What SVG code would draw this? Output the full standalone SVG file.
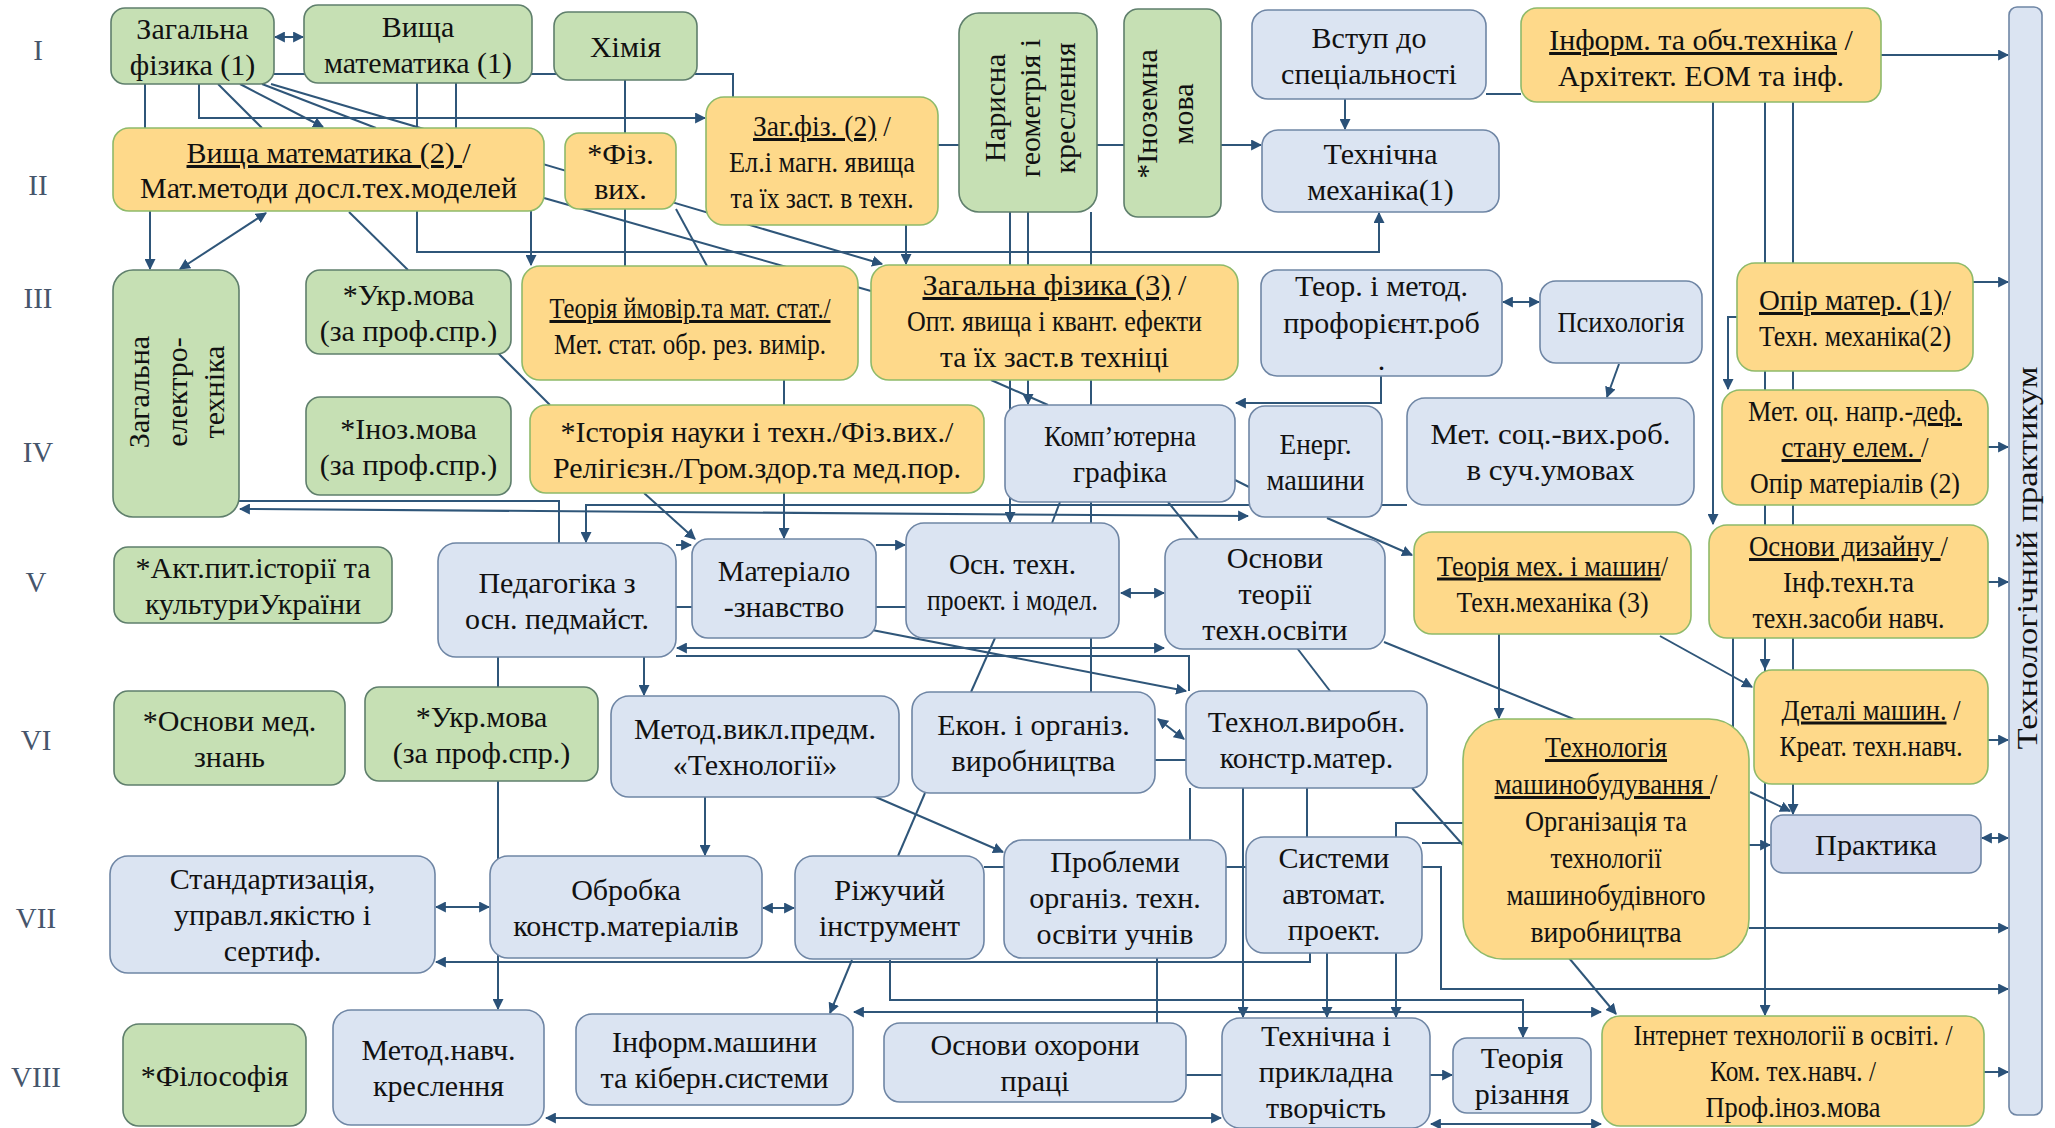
<svg xmlns="http://www.w3.org/2000/svg" width="2055" height="1128" viewBox="0 0 2055 1128">
<style>
.g{fill:#c6e0b4;stroke:#5f7f6c;stroke-width:1.6}
.y{fill:#fed98a;stroke:#8fba6a;stroke-width:1.6}
.b{fill:#dbe4f2;stroke:#6f86a5;stroke-width:1.6}
.p{fill:#d3dbee;stroke:#6f86a5;stroke-width:1.6}
.c{fill:none;stroke:#2f5679;stroke-width:2}
.t{font-family:"Liberation Serif","Times New Roman",serif;font-size:30px;fill:#111;text-anchor:middle}
.r{font-family:"Liberation Serif","Times New Roman",serif;font-size:29px;fill:#46556b;text-anchor:middle}
.u{text-decoration:underline}
</style>
<defs>
<marker id="a" viewBox="0 0 10 10" refX="9" refY="5" markerWidth="11" markerHeight="11" markerUnits="userSpaceOnUse" orient="auto-start-reverse"><path d="M0,0 L10,5 L0,10 z" fill="#2a5178"/></marker>
</defs>
<rect width="2055" height="1128" fill="#ffffff"/>

<g id="connectors">
<path class="c" d="M275,37 H303" marker-start="url(#a)" marker-end="url(#a)"/>
<path class="c" d="M274,74 H733 V97"/>
<path class="c" d="M145,84 V128"/>
<path class="c" d="M199,84 V118 H705" marker-end="url(#a)"/>
<path class="c" d="M218,84 L262,128"/>
<path class="c" d="M240,84 L323,127" marker-end="url(#a)"/>
<path class="c" d="M262,84 L376,128"/>
<path class="c" d="M271,84 L882,264" marker-end="url(#a)"/>
<path class="c" d="M417,83 V252 H1379 V213" marker-end="url(#a)"/>
<path class="c" d="M456,83 V128"/>
<path class="c" d="M625,80 V266"/>
<path class="c" d="M150,211 V269" marker-end="url(#a)"/>
<path class="c" d="M266,213 L180,269" marker-start="url(#a)" marker-end="url(#a)"/>
<path class="c" d="M349,212 L408,270"/>
<path class="c" d="M531,211 V265" marker-end="url(#a)"/>
<path class="c" d="M498,353 L550,405"/>
<path class="c" d="M676,209 L707,266"/>
<path class="c" d="M544,198 L871,291"/>
<path class="c" d="M906,225 V264" marker-end="url(#a)"/>
<path class="c" d="M938,145 H1261" marker-end="url(#a)"/>
<path class="c" d="M1345,99 V129" marker-end="url(#a)"/>
<path class="c" d="M1010,212 V522" marker-end="url(#a)"/>
<path class="c" d="M1028,212 V404" marker-end="url(#a)"/>
<path class="c" d="M1091,212 V692"/>
<path class="c" d="M991,380 L1048,405"/>
<path class="c" d="M1881,55 H2008" marker-end="url(#a)"/>
<path class="c" d="M1486,94 H1521"/>
<path class="c" d="M1503,302 H1539" marker-start="url(#a)" marker-end="url(#a)"/>
<path class="c" d="M1713,102 V524" marker-end="url(#a)"/>
<path class="c" d="M1765,102 V1015" marker-end="url(#a)"/>
<path class="c" d="M1765,640 V669" marker-end="url(#a)"/>
<path class="c" d="M1793,102 V814" marker-end="url(#a)"/>
<path class="c" d="M1737,317 H1728 V389" marker-end="url(#a)"/>
<path class="c" d="M1619,364 L1607,397" marker-end="url(#a)"/>
<path class="c" d="M1381,376 V403 H1236" marker-end="url(#a)"/>
<path class="c" d="M1235,480 L1249,487"/>
<path class="c" d="M1382,505 H1407"/>
<path class="c" d="M1249,505 H586 V542" marker-end="url(#a)"/>
<path class="c" d="M240,509 L1248,516" marker-start="url(#a)" marker-end="url(#a)"/>
<path class="c" d="M239,501 H559 V543"/>
<path class="c" d="M644,493 L695,539" marker-end="url(#a)"/>
<path class="c" d="M784,380 V538" marker-end="url(#a)"/>
<path class="c" d="M1060,502 L1052,523"/>
<path class="c" d="M1168,502 L1198,539"/>
<path class="c" d="M1121,593 H1164" marker-start="url(#a)" marker-end="url(#a)"/>
<path class="c" d="M676,545 H691" marker-end="url(#a)"/>
<path class="c" d="M876,545 H905" marker-end="url(#a)"/>
<path class="c" d="M676,607 H906"/>
<path class="c" d="M677,648 H1164" marker-start="url(#a)" marker-end="url(#a)"/>
<path class="c" d="M676,656 H1189 V691"/>
<path class="c" d="M872,630 L1186,691" marker-end="url(#a)"/>
<path class="c" d="M498,657 V1009" marker-end="url(#a)"/>
<path class="c" d="M644,657 V695" marker-end="url(#a)"/>
<path class="c" d="M995,638 L971,692"/>
<path class="c" d="M1297,648 L1330,691"/>
<path class="c" d="M1384,642 L1576,720"/>
<path class="c" d="M1327,518 L1412,555" marker-end="url(#a)"/>
<path class="c" d="M1158,719 L1184,739" marker-start="url(#a)" marker-end="url(#a)"/>
<path class="c" d="M1155,760 H1186"/>
<path class="c" d="M1499,634 V718" marker-end="url(#a)"/>
<path class="c" d="M1660,636 L1752,687" marker-end="url(#a)"/>
<path class="c" d="M1988,582 H2008" marker-end="url(#a)"/>
<path class="c" d="M1988,447 H2008" marker-end="url(#a)"/>
<path class="c" d="M1973,282 H2008" marker-end="url(#a)"/>
<path class="c" d="M1988,740 H2008" marker-end="url(#a)"/>
<path class="c" d="M1982,838 H2008" marker-start="url(#a)" marker-end="url(#a)"/>
<path class="c" d="M1749,845 H1770" marker-end="url(#a)"/>
<path class="c" d="M1749,928 H2008" marker-end="url(#a)"/>
<path class="c" d="M984,867 H1441 V989 H2008" marker-end="url(#a)"/>
<path class="c" d="M1984,1072 H2008" marker-end="url(#a)"/>
<path class="c" d="M1569,958 L1616,1014" marker-end="url(#a)"/>
<path class="c" d="M1463,823 H1396 V1017" marker-end="url(#a)"/>
<path class="c" d="M1327,953 V1017" marker-end="url(#a)"/>
<path class="c" d="M1243,788 V1017" marker-end="url(#a)"/>
<path class="c" d="M1307,788 V837"/>
<path class="c" d="M1190,788 V840"/>
<path class="c" d="M1422,843 H1463"/>
<path class="c" d="M1412,788 L1463,845"/>
<path class="c" d="M1310,953 V962 H436" marker-end="url(#a)"/>
<path class="c" d="M436,907 H489" marker-start="url(#a)" marker-end="url(#a)"/>
<path class="c" d="M763,908 H794" marker-start="url(#a)" marker-end="url(#a)"/>
<path class="c" d="M705,797 V855" marker-end="url(#a)"/>
<path class="c" d="M871,795 L1003,852" marker-end="url(#a)"/>
<path class="c" d="M925,793 L898,856"/>
<path class="c" d="M852,960 L830,1013" marker-end="url(#a)"/>
<path class="c" d="M890,960 V1000 H1523 V1037" marker-end="url(#a)"/>
<path class="c" d="M854,1012 H1601" marker-start="url(#a)" marker-end="url(#a)"/>
<path class="c" d="M1157,958 V1023"/>
<path class="c" d="M1430,1075 H1452" marker-end="url(#a)"/>
<path class="c" d="M1186,1075 H1222"/>
<path class="c" d="M546,1118 H1221" marker-start="url(#a)" marker-end="url(#a)"/>
<path class="c" d="M1431,1124 H1601" marker-start="url(#a)" marker-end="url(#a)"/>
<path class="c" d="M1733,638 V760"/>
<path class="c" d="M1750,792 L1790,811" marker-end="url(#a)"/>
</g>

<g id="row-labels">
<text class="r" x="38" y="60">I</text>
<text class="r" x="38" y="195">II</text>
<text class="r" x="38" y="308">III</text>
<text class="r" x="38" y="462">IV</text>
<text class="r" x="36" y="592">V</text>
<text class="r" x="36" y="750">VI</text>
<text class="r" x="36" y="928">VII</text>
<text class="r" x="36" y="1087">VIII</text>
</g>

<g id="n-zf1"><rect class="g" x="111" y="8" width="163" height="76" rx="14"/><text class="t" x="192.5" y="38.5">Загальна</text><text class="t" x="192.5" y="74.5">фізика (1)</text></g>
<g id="n-vm1"><rect class="g" x="304" y="5" width="228" height="78" rx="14"/><text class="t" x="418" y="36.5">Вища</text><text class="t" x="418" y="72.5">математика (1)</text></g>
<g id="n-chem"><rect class="g" x="554" y="12" width="143" height="68" rx="14"/><text class="t" x="625.5" y="56.5">Хімія</text></g>
<g id="n-geom"><rect class="g" x="959" y="13" width="138" height="199" rx="20"/><g transform="translate(1029,108) rotate(-90)"><text class="t" x="0" y="-24.5">Нарисна</text><text class="t" x="0" y="10.5">геометрія і</text><text class="t" x="0" y="45.5">креслення</text></g></g>
<g id="n-foreign"><rect class="g" x="1124" y="9" width="97" height="208" rx="14"/><g transform="translate(1164,114) rotate(-90)"><text class="t" x="0" y="-7.5">*Іноземна</text><text class="t" x="0" y="28.5">мова</text></g></g>
<g id="n-intro"><rect class="b" x="1252" y="10" width="234" height="89" rx="16"/><text class="t" x="1369" y="48">Вступ до</text><text class="t" x="1369" y="84">спеціальності</text></g>
<g id="n-inform"><rect class="y" x="1521" y="8" width="360" height="94" rx="16"/><text class="t" x="1701" y="50"><tspan class="u">Інформ. та обч.техніка</tspan> /</text><text class="t" x="1701" y="86">Архітект. ЕОМ та інф.</text></g>
<g id="n-practicum"><rect class="b" x="2009" y="7" width="33" height="1108" rx="8"/><text class="t" transform="translate(2026,558) rotate(-90)" x="0" y="10.5" textLength="383" lengthAdjust="spacingAndGlyphs">Технологічний практикум</text></g>

<g id="n-vm2"><rect class="y" x="113" y="128" width="431" height="83" rx="16"/><text class="t" x="328.5" y="163"><tspan class="u">Вища  математика (2) </tspan>/</text><text class="t" x="328.5" y="198">Мат.методи досл.тех.моделей</text></g>
<g id="n-phys-ed"><rect class="y" x="565" y="133" width="111" height="76" rx="14"/><text class="t" x="620.5" y="164">*Фіз.</text><text class="t" x="620.5" y="199">вих.</text></g>
<g id="n-zf2"><rect class="y" x="706" y="97" width="232" height="128" rx="18"/><text class="t" x="822" y="136" textLength="138" lengthAdjust="spacingAndGlyphs"><tspan class="u">Заг.фіз. (2)</tspan> /</text><text class="t" x="822" y="172" textLength="186" lengthAdjust="spacingAndGlyphs">Ел.і магн. явища</text><text class="t" x="822" y="208" textLength="183" lengthAdjust="spacingAndGlyphs">та їх заст. в техн.</text></g>
<g id="n-tm1"><rect class="b" x="1262" y="130" width="237" height="82" rx="16"/><text class="t" x="1380.5" y="163.5">Технічна</text><text class="t" x="1380.5" y="199.5">механіка(1)</text></g>

<g id="n-elec"><rect class="g" x="113" y="270" width="126" height="247" rx="20"/><g transform="translate(176,392) rotate(-90)"><text class="t" x="0" y="-27.5">Загальна</text><text class="t" x="0" y="10.5">електро-</text><text class="t" x="0" y="47.5">техніка</text></g></g>
<g id="n-ukr1"><rect class="g" x="306" y="270" width="205" height="84" rx="14"/><text class="t" x="408.5" y="304.5">*Укр.мова</text><text class="t" x="408.5" y="340.5">(за проф.спр.)</text></g>
<g id="n-prob"><rect class="y" x="522" y="266" width="336" height="114" rx="18"/><text class="t" x="690" y="318" textLength="281" lengthAdjust="spacingAndGlyphs"><tspan class="u">Теорія ймовір.та мат. стат./</tspan></text><text class="t" x="690" y="354" textLength="272" lengthAdjust="spacingAndGlyphs">Мет. стат. обр. рез. вимір.</text></g>
<g id="n-zf3"><rect class="y" x="871" y="265" width="367" height="115" rx="18"/><text class="t" x="1054.5" y="295" textLength="264" lengthAdjust="spacingAndGlyphs"><tspan class="u">Загальна фізика (3)</tspan> /</text><text class="t" x="1054.5" y="331" textLength="295" lengthAdjust="spacingAndGlyphs">Опт. явища і квант. ефекти</text><text class="t" x="1054.5" y="367" textLength="229" lengthAdjust="spacingAndGlyphs">та їх заст.в техніці</text></g>
<g id="n-prof"><rect class="b" x="1261" y="270" width="241" height="106" rx="16"/><text class="t" x="1381.5" y="296">Теор. і метод.</text><text class="t" x="1381.5" y="333">профорієнт.роб</text><text class="t" x="1381.5" y="370">.</text></g>
<g id="n-psych"><rect class="b" x="1540" y="281" width="162" height="82" rx="16"/><text class="t" x="1621" y="332" textLength="127" lengthAdjust="spacingAndGlyphs">Психологія</text></g>
<g id="n-om1"><rect class="y" x="1737" y="263" width="236" height="108" rx="18"/><text class="t" x="1855" y="310" textLength="192" lengthAdjust="spacingAndGlyphs"><tspan class="u">Опір матер. (1)</tspan>/</text><text class="t" x="1855" y="346" textLength="192" lengthAdjust="spacingAndGlyphs">Техн. механіка(2)</text></g>

<g id="n-ino"><rect class="g" x="306" y="397" width="205" height="98" rx="14"/><text class="t" x="408.5" y="438.5">*Іноз.мова</text><text class="t" x="408.5" y="474.5">(за проф.спр.)</text></g>
<g id="n-hist"><rect class="y" x="530" y="405" width="454" height="88" rx="16"/><text class="t" x="757" y="441.5">*Історія науки і техн./Фіз.вих./</text><text class="t" x="757" y="477.5">Релігієзн./Гром.здор.та мед.пор.</text></g>
<g id="n-cg"><rect class="b" x="1005" y="405" width="230" height="97" rx="16"/><text class="t" x="1120" y="446" textLength="152" lengthAdjust="spacingAndGlyphs">Комп’ютерна</text><text class="t" x="1120" y="482" textLength="94" lengthAdjust="spacingAndGlyphs">графіка</text></g>
<g id="n-energ"><rect class="b" x="1249" y="406" width="133" height="111" rx="16"/><text class="t" x="1315.5" y="454" textLength="72" lengthAdjust="spacingAndGlyphs">Енерг.</text><text class="t" x="1315.5" y="490" textLength="98" lengthAdjust="spacingAndGlyphs">машини</text></g>
<g id="n-soc"><rect class="b" x="1407" y="398" width="287" height="107" rx="18"/><text class="t" x="1550.5" y="444" textLength="240" lengthAdjust="spacingAndGlyphs">Мет.  соц.-вих.роб.</text><text class="t" x="1550.5" y="480" textLength="168" lengthAdjust="spacingAndGlyphs">в суч.умовах</text></g>
<g id="n-mo"><rect class="y" x="1722" y="390" width="266" height="115" rx="18"/><text class="t" x="1855" y="421" textLength="214" lengthAdjust="spacingAndGlyphs">Мет. оц. напр.-<tspan class="u">деф.</tspan></text><text class="t" x="1855" y="457" textLength="147" lengthAdjust="spacingAndGlyphs"><tspan class="u">стану  елем. </tspan>/</text><text class="t" x="1855" y="493" textLength="210" lengthAdjust="spacingAndGlyphs">Опір матеріалів (2)</text></g>

<g id="n-akt"><rect class="g" x="114" y="547" width="278" height="76" rx="14"/><text class="t" x="253" y="577.5">*Акт.пит.історії та</text><text class="t" x="253" y="613.5">культуриУкраїни</text></g>
<g id="n-ped"><rect class="b" x="438" y="543" width="238" height="114" rx="18"/><text class="t" x="557" y="592.5">Педагогіка з</text><text class="t" x="557" y="628.5">осн. педмайст.</text></g>
<g id="n-mat"><rect class="b" x="692" y="539" width="184" height="99" rx="16"/><text class="t" x="784" y="581">Матеріало</text><text class="t" x="784" y="617">-знавство</text></g>
<g id="n-otp"><rect class="b" x="906" y="523" width="213" height="115" rx="18"/><text class="t" x="1012.5" y="574" textLength="127" lengthAdjust="spacingAndGlyphs">Осн. техн.</text><text class="t" x="1012.5" y="610" textLength="171" lengthAdjust="spacingAndGlyphs">проект. і модел.</text></g>
<g id="n-oto"><rect class="b" x="1165" y="539" width="220" height="110" rx="18"/><text class="t" x="1275" y="568">Основи</text><text class="t" x="1275" y="604">теорії</text><text class="t" x="1275" y="640">техн.освіти</text></g>
<g id="n-tmm"><rect class="y" x="1414" y="532" width="277" height="102" rx="18"/><text class="t" x="1552.5" y="575.5" textLength="231" lengthAdjust="spacingAndGlyphs"><tspan class="u">Теорія мех. і машин</tspan>/</text><text class="t" x="1552.5" y="611.5" textLength="192" lengthAdjust="spacingAndGlyphs">Техн.механіка (3)</text></g>
<g id="n-design"><rect class="y" x="1709" y="525" width="279" height="113" rx="18"/><text class="t" x="1848.5" y="556" textLength="199" lengthAdjust="spacingAndGlyphs"><tspan class="u">Основи дизайну </tspan> /</text><text class="t" x="1848.5" y="592" textLength="131" lengthAdjust="spacingAndGlyphs">Інф.техн.та</text><text class="t" x="1848.5" y="628" textLength="192" lengthAdjust="spacingAndGlyphs">техн.засоби навч.</text></g>

<g id="n-med"><rect class="g" x="114" y="691" width="231" height="94" rx="14"/><text class="t" x="229.5" y="730.5">*Основи мед.</text><text class="t" x="229.5" y="766.5">знань</text></g>
<g id="n-ukr2"><rect class="g" x="365" y="687" width="233" height="94" rx="14"/><text class="t" x="481.5" y="726.5">*Укр.мова</text><text class="t" x="481.5" y="762.5">(за проф.спр.)</text></g>
<g id="n-metod"><rect class="b" x="611" y="696" width="288" height="101" rx="18"/><text class="t" x="755" y="739">Метод.викл.предм.</text><text class="t" x="755" y="775">«Технології»</text></g>
<g id="n-econ"><rect class="b" x="912" y="692" width="243" height="101" rx="18"/><text class="t" x="1033.5" y="735">Екон. і організ.</text><text class="t" x="1033.5" y="771">виробництва</text></g>
<g id="n-tv"><rect class="b" x="1186" y="691" width="241" height="97" rx="16"/><text class="t" x="1306.5" y="732">Технол.виробн.</text><text class="t" x="1306.5" y="768">констр.матер.</text></g>
<g id="n-tmb"><rect class="y" x="1463" y="719" width="286" height="240" rx="40"/><text class="t" x="1606" y="757" textLength="122" lengthAdjust="spacingAndGlyphs"><tspan class="u">Технологія</tspan></text><text class="t" x="1606" y="794" textLength="223" lengthAdjust="spacingAndGlyphs"><tspan class="u">машинобудування </tspan>/</text><text class="t" x="1606" y="831" textLength="162" lengthAdjust="spacingAndGlyphs">Організація та</text><text class="t" x="1606" y="868" textLength="111" lengthAdjust="spacingAndGlyphs">технології</text><text class="t" x="1606" y="905" textLength="199" lengthAdjust="spacingAndGlyphs">машинобудівного</text><text class="t" x="1606" y="942" textLength="151" lengthAdjust="spacingAndGlyphs">виробництва</text></g>
<g id="n-dm"><rect class="y" x="1754" y="670" width="234" height="114" rx="18"/><text class="t" x="1871" y="719.5" textLength="179" lengthAdjust="spacingAndGlyphs"><tspan class="u">Деталі машин.</tspan> /</text><text class="t" x="1871" y="755.5" textLength="183" lengthAdjust="spacingAndGlyphs">Креат. техн.навч.</text></g>
<g id="n-prakt"><rect class="p" x="1771" y="815" width="210" height="58" rx="12"/><text class="t" x="1876" y="854.5" textLength="122" lengthAdjust="spacingAndGlyphs">Практика</text></g>

<g id="n-std"><rect class="b" x="110" y="856" width="325" height="117" rx="18"/><text class="t" x="272.5" y="889">Стандартизація,</text><text class="t" x="272.5" y="925">управл.якістю і</text><text class="t" x="272.5" y="961">сертиф.</text></g>
<g id="n-obr"><rect class="b" x="490" y="856" width="272" height="102" rx="18"/><text class="t" x="626" y="899.5">Обробка</text><text class="t" x="626" y="935.5">констр.матеріалів</text></g>
<g id="n-rizh"><rect class="b" x="795" y="856" width="189" height="103" rx="18"/><text class="t" x="889.5" y="900" textLength="111" lengthAdjust="spacingAndGlyphs">Ріжучий</text><text class="t" x="889.5" y="936" textLength="141" lengthAdjust="spacingAndGlyphs">інструмент</text></g>
<g id="n-probl"><rect class="b" x="1004" y="840" width="222" height="118" rx="18"/><text class="t" x="1115" y="872">Проблеми</text><text class="t" x="1115" y="908">організ. техн.</text><text class="t" x="1115" y="944">освіти учнів</text></g>
<g id="n-sap"><rect class="b" x="1246" y="837" width="176" height="116" rx="18"/><text class="t" x="1334" y="868">Системи</text><text class="t" x="1334" y="904">автомат.</text><text class="t" x="1334" y="940">проект.</text></g>

<g id="n-phil"><rect class="g" x="123" y="1024" width="183" height="102" rx="16"/><text class="t" x="214.5" y="1085.5">*Філософія</text></g>
<g id="n-mnk"><rect class="b" x="333" y="1010" width="211" height="115" rx="18"/><text class="t" x="438.5" y="1060">Метод.навч.</text><text class="t" x="438.5" y="1096">креслення</text></g>
<g id="n-im"><rect class="b" x="576" y="1014" width="277" height="91" rx="16"/><text class="t" x="714.5" y="1052">Інформ.машини</text><text class="t" x="714.5" y="1088">та кіберн.системи</text></g>
<g id="n-oop"><rect class="b" x="884" y="1023" width="302" height="79" rx="16"/><text class="t" x="1035" y="1055">Основи охорони</text><text class="t" x="1035" y="1091">праці</text></g>
<g id="n-tpt"><rect class="b" x="1222" y="1018" width="208" height="110" rx="18"/><text class="t" x="1326" y="1046">Технічна і</text><text class="t" x="1326" y="1082">прикладна</text><text class="t" x="1326" y="1118">творчість</text></g>
<g id="n-tr"><rect class="b" x="1453" y="1038" width="138" height="75" rx="14"/><text class="t" x="1522" y="1068">Теорія</text><text class="t" x="1522" y="1104">різання</text></g>
<g id="n-inet"><rect class="y" x="1602" y="1016" width="382" height="110" rx="18"/><text class="t" x="1793" y="1045" textLength="319" lengthAdjust="spacingAndGlyphs">Інтернет  технології в освіті. /</text><text class="t" x="1793" y="1081" textLength="166" lengthAdjust="spacingAndGlyphs">Ком. тех.навч. /</text><text class="t" x="1793" y="1117" textLength="175" lengthAdjust="spacingAndGlyphs">Проф.іноз.мова</text></g>
</svg>
